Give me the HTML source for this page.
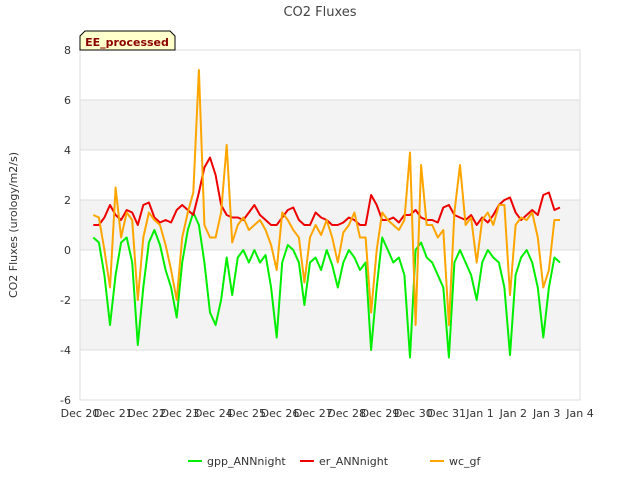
<!DOCTYPE html>
<html><head><meta charset="utf-8"><style>
body{margin:0;background:#fff;font-family:"Liberation Sans","DejaVu Sans",sans-serif}
svg text{font-family:"DejaVu Sans","Liberation Sans",sans-serif}
</style></head><body>
<svg id="c" width="640" height="480" xmlns="http://www.w3.org/2000/svg">
<text x="320" y="16" text-anchor="middle" font-size="13" fill="#444">CO2 Fluxes</text>
<text transform="translate(17,225) rotate(-90)" text-anchor="middle" font-size="11" fill="#333">CO2 Fluxes (urology/m2/s)</text>
<g id="bands"></g>
<g id="grid"></g>
<g id="series"></g>
<g id="ticks"></g>
<g>
<path d="M80,50 L80,36 L85,31 L170,31 L175,36 L175,50 Z" fill="#ffffcc" stroke="#000" stroke-width="1"/>
<text x="127" y="46" text-anchor="middle" font-size="11" font-weight="bold" fill="#8b0000">EE_processed</text>
</g>
<g id="legend"></g>
</svg>
<script>
const tStart = 0.4, tStep = 1/6;
const gpp = [0.5,0.3,-1.0,-3.0,-1.0,0.3,0.5,-0.5,-3.8,-1.5,0.3,0.8,0.2,-0.8,-1.5,-2.7,-0.5,0.8,1.5,1.0,-0.5,-2.5,-3.0,-2.0,-0.3,-1.8,-0.3,0.0,-0.5,0.0,-0.5,-0.2,-1.5,-3.5,-0.5,0.2,0.0,-0.5,-2.2,-0.5,-0.3,-0.8,0.0,-0.6,-1.5,-0.5,0.0,-0.3,-0.8,-0.5,-4.0,-1.5,0.5,0.0,-0.5,-0.3,-1.0,-4.3,0.0,0.3,-0.3,-0.5,-1.0,-1.5,-4.3,-0.5,0.0,-0.5,-1.0,-2.0,-0.5,0.0,-0.3,-0.5,-1.5,-4.2,-1.0,-0.3,0.0,-0.5,-1.5,-3.5,-1.5,-0.3,-0.5];
const er = [1.0,1.0,1.3,1.8,1.4,1.2,1.6,1.5,1.0,1.8,1.9,1.3,1.1,1.2,1.1,1.6,1.8,1.6,1.4,2.3,3.3,3.7,3.0,1.8,1.4,1.3,1.3,1.2,1.5,1.8,1.4,1.2,1.0,1.0,1.3,1.6,1.7,1.2,1.0,1.0,1.5,1.3,1.2,1.0,1.0,1.1,1.3,1.2,1.0,1.0,2.2,1.8,1.2,1.2,1.3,1.1,1.4,1.4,1.6,1.3,1.2,1.2,1.1,1.7,1.8,1.4,1.3,1.2,1.4,1.0,1.3,1.1,1.4,1.8,2.0,2.1,1.5,1.2,1.4,1.6,1.4,2.2,2.3,1.6,1.7];
const wc = [1.4,1.3,0.0,-1.5,2.5,0.5,1.5,1.2,-2.0,0.5,1.5,1.2,1.0,0.2,-0.8,-2.0,0.5,1.5,2.3,7.2,1.0,0.5,0.5,1.5,4.2,0.3,1.0,1.3,0.8,1.0,1.2,0.8,0.2,-0.8,1.5,1.2,0.8,0.5,-1.3,0.5,1.0,0.6,1.2,0.5,-0.5,0.7,1.0,1.5,0.5,0.5,-2.5,0.0,1.5,1.2,1.0,0.8,1.2,3.9,-3.0,3.4,1.0,1.0,0.5,0.8,-3.0,1.5,3.4,1.0,1.3,-0.5,1.2,1.5,1.0,1.8,1.8,-1.8,1.0,1.3,1.2,1.5,0.5,-1.5,-0.8,1.2,1.2];
const xLabels = ["Dec 20","Dec 21","Dec 22","Dec 23","Dec 24","Dec 25","Dec 26","Dec 27","Dec 28","Dec 29","Dec 30","Dec 31","Jan 1","Jan 2","Jan 3","Jan 4"];
const yTicks = [-6,-4,-2,0,2,4,6,8];
const names = ["gpp_ANNnight","er_ANNnight","wc_gf"];
const colors = ["#00ee00","#ee0000","#ffa500"];

const L=80,R=580,T=50,B=400;
const x = t => L + t*(R-L)/15;
const y = v => B - (v+6)*(B-T)/14;
const NS="http://www.w3.org/2000/svg";
function mk(tag, parent, attrs){const e=document.createElementNS(NS,tag);for(const k in attrs)e.setAttribute(k,attrs[k]);parent.appendChild(e);return e;}
const bands=document.getElementById('bands'), grid=document.getElementById('grid'), ticks=document.getElementById('ticks'), series=document.getElementById('series'), legend=document.getElementById('legend');
[[4,6],[0,2],[-4,-2]].forEach(b=>{
  const r=mk('rect',bands,{x:L,y:y(b[1]),width:R-L,height:y(b[0])-y(b[1]),fill:'#f3f3f3'});
  
  
});
yTicks.forEach(v=>{
  const l=mk('line',grid,{x1:L,x2:R,y1:y(v),y2:y(v),stroke:'#dddddd','stroke-width':1});
  
  
  const t=mk('text',ticks,{x:71,y:y(v)+4,'text-anchor':'end','font-size':11,fill:'#333'});
  t.textContent=v;
  
  
});
const fr=mk('rect',grid,{x:L,y:T,width:R-L,height:B-T,fill:'none',stroke:'#dddddd'});


xLabels.forEach((s,i)=>{
  const t=mk('text',ticks,{x:x(i),y:417,'text-anchor':'middle','font-size':11,fill:'#333'});
  t.textContent=s;
  
  
});
[gpp,er,wc].forEach((d,si)=>{
  const pts=d.map((v,i)=>x(tStart+i*tStep).toFixed(1)+','+y(v).toFixed(1)).join(' ');
  const p=mk('polyline',series,{points:pts,fill:'none',stroke:colors[si],'stroke-width':2,'stroke-linejoin':'round'});
  
  
});
const lx=[188,300,430];
names.forEach((n,i)=>{
  const g=mk('g',legend,{});
  
  
  mk('line',g,{x1:lx[i],x2:lx[i]+14,y1:461,y2:461,stroke:colors[i],'stroke-width':2});
  const t=mk('text',g,{x:lx[i]+19,y:465,'font-size':11,fill:'#333'});
  t.textContent=n;
});
</script>
</body></html>
